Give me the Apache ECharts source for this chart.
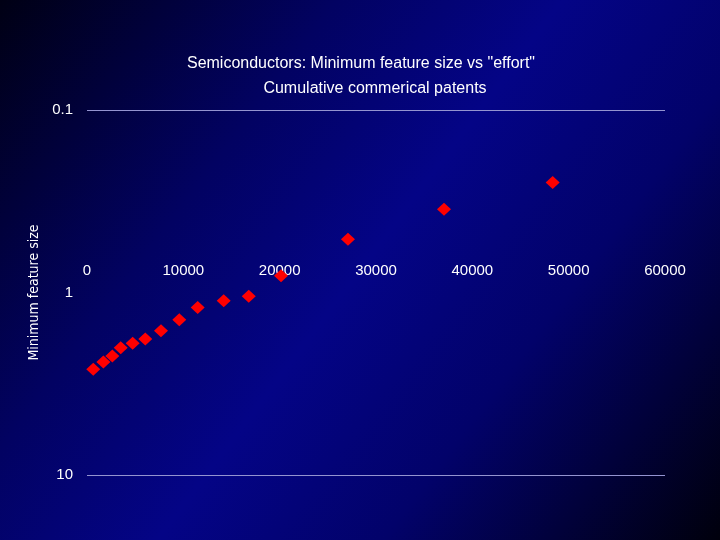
<!DOCTYPE html>
<html>
<head>
<meta charset="utf-8">
<script src="https://cdn.jsdelivr.net/npm/echarts@6/dist/echarts.min.js"></script>
<style>
  html, body { margin: 0; padding: 0; }
  #chart { width: 720px; height: 540px; }
</style>
</head>
<body>
<div id="chart"></div>
<script>
// cumulative commercial patents vs minimum feature size
const patents = [650, 1700, 2630, 3500, 4740, 6050, 7680, 9580, 11490, 14190, 16790, 20140, 27090, 37060, 48340];
const featureSize = [2.63, 2.40, 2.23, 2.01, 1.90, 1.80, 1.62, 1.41, 1.21, 1.11, 1.05, 0.81, 0.51, 0.35, 0.25];

const points = patents.map((p, i) => [p, featureSize[i]]);

const chart = echarts.init(document.getElementById('chart'));
chart.setOption({
  backgroundColor: {
    type: 'linear', x: 0, y: 0, x2: 1, y2: 1,
    colorStops: [
      { offset: 0, color: '#000014' },
      { offset: 0.3, color: '#020262' },
      { offset: 0.5, color: '#040486' },
      { offset: 0.7, color: '#02026a' },
      { offset: 1, color: '#00000c' }
    ]
  },
  title: [
    {
      text: 'Semiconductors: Minimum feature size vs "effort"',
      left: 356, top: 51, textAlign: 'center',
      textStyle: { color: '#fff', fontSize: 16, fontWeight: 'normal', fontFamily: 'Liberation Sans' }
    },
    {
      text: 'Cumulative commerical patents',
      left: 370, top: 76, textAlign: 'center',
      textStyle: { color: '#fff', fontSize: 16, fontWeight: 'normal', fontFamily: 'Liberation Sans' }
    }
  ],
  grid: { left: 87, right: 55, top: 110, bottom: 65 },
  xAxis: {
    type: 'value',
    min: 0, max: 60000, interval: 10000,
    position: 'top',
    offset: -183,
    axisLine: { show: false },
    axisTick: { show: false },
    splitLine: { show: false },
    axisLabel: {
      color: '#fff', fontSize: 15, margin: 15, fontFamily: 'Liberation Sans',
      formatter: v => String(v)
    }
  },
  yAxis: {
    type: 'log',
    logBase: 10,
    min: 0.1, max: 10,
    inverse: true,
    name: 'Minimum feature size',
    nameLocation: 'middle',
    nameGap: 40,
    nameTextStyle: { color: '#fff', fontSize: 14, fontFamily: 'DejaVu Sans Condensed' },
    axisLine: { show: false },
    axisTick: { show: false },
    axisLabel: { color: '#fff', fontSize: 15, margin: 14, fontFamily: 'Liberation Sans' },
    splitLine: { lineStyle: { color: ['#9494d0', 'rgba(0,0,0,0)'], width: 1 } }
  },
  series: [
    {
      type: 'scatter',
      symbol: 'diamond',
      symbolSize: [14, 13],
      itemStyle: { color: '#ff0000', opacity: 1 },
      data: points
    }
  ]
});
</script>
</body>
</html>
